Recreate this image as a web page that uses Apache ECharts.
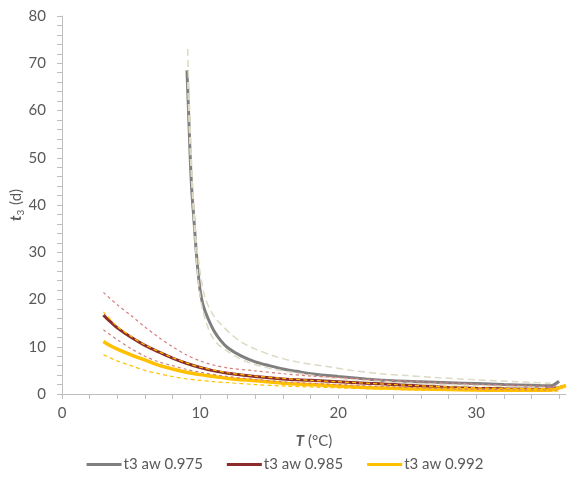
<!DOCTYPE html>
<html><head><meta charset="utf-8">
<script src="https://cdn.jsdelivr.net/npm/echarts@6/dist/echarts.min.js"></script>
<style>html,body{margin:0;padding:0;background:#fff}#c{width:570px;height:479px}</style>
</head><body><div id="c"></div>
<script>
// Temperatures (°C) and t3 (d) values
const grayT    = [9.05, 9.2, 9.3, 9.4, 9.5, 9.6, 9.7, 9.8, 9.9, 10.0, 10.2, 10.5, 11.0, 11.5, 12.0, 13.0, 14.0, 15.0, 16.0, 17.0, 18.0, 20.0, 22.0, 24.0, 26.0, 28.0, 30.0, 32.0, 34.0, 35.4, 36.0];
const grayV    = [68.5, 57, 49, 43, 39, 35, 31, 27.5, 24.5, 22, 19, 16.5, 13.4, 11.3, 9.8, 8.0, 6.8, 6.0, 5.3, 4.8, 4.3, 3.7, 3.2, 2.8, 2.6, 2.4, 2.2, 2.0, 1.85, 1.75, 2.7];
const grayHiT  = [9.1, 9.3, 9.5, 9.7, 9.9, 10.1, 10.4, 11.0, 11.6, 12.3, 13.1, 14.0, 15.5, 17.0, 19.2, 21.0, 23.0, 25.0, 27.0, 30.0, 33.0, 35.4];
const grayHiV  = [73, 55, 42, 33, 28, 24, 20, 16.5, 14.5, 12.5, 10.8, 9.5, 7.9, 6.8, 5.8, 5.0, 4.3, 3.9, 3.5, 3.0, 2.6, 2.3];
const grayLoT  = [9.1, 9.3, 9.5, 9.7, 9.9, 10.1, 10.4, 10.8, 11.3, 12.0, 12.6, 13.5, 14.5, 16.0, 18.0, 20.0, 23.0, 26.0, 30.0, 35.0];
const grayLoV  = [66, 50, 39, 30, 23, 19, 15.5, 12.5, 10.5, 9.0, 7.9, 6.7, 5.8, 4.9, 4.0, 3.3, 2.7, 2.2, 1.8, 1.4];

const redT     = [3, 3.5, 4, 5, 6, 7, 8, 9, 10, 11, 12, 14, 16, 18, 20, 22, 24, 26, 28, 30, 32, 34, 35.5, 36.3];
const redV     = [16.7, 15.3, 14.0, 12.0, 10.3, 8.9, 7.6, 6.5, 5.6, 4.9, 4.4, 3.7, 3.2, 2.9, 2.6, 2.3, 2.0, 1.7, 1.4, 1.2, 1.1, 1.05, 1.05, 1.6];
const redHiT   = [3, 4, 5, 6, 7, 8, 9, 10, 11, 12, 14, 16, 18, 20, 23, 26, 30, 33, 36];
const redHiV   = [21.5, 18.9, 16.6, 14.2, 12.0, 10.0, 8.3, 7.0, 6.1, 5.5, 4.9, 4.3, 3.8, 3.5, 3.0, 2.6, 2.1, 1.8, 1.6];
const redLoT   = [3, 4, 5, 6, 7, 8, 9, 10, 12, 14, 16, 20, 25, 30, 36];
const redLoV   = [13.6, 11.5, 9.6, 8.0, 6.8, 6.0, 5.2, 4.6, 3.7, 3.1, 2.6, 2.0, 1.4, 1.0, 0.8];

const yelT     = [3, 3.5, 4, 5, 6, 7, 8, 9, 10, 11, 12, 14, 16, 18, 20, 22, 24, 26, 28, 30, 32, 34, 35.5, 36.0, 36.5];
const yelV     = [11.1, 10.2, 9.5, 8.3, 7.2, 6.1, 5.3, 4.6, 4.1, 3.7, 3.3, 2.8, 2.3, 2.0, 1.7, 1.4, 1.2, 1.05, 0.95, 0.85, 0.8, 0.8, 0.85, 1.3, 1.8];
const yelHiT   = [3, 4, 5, 6, 7, 8, 9, 10, 12, 14, 16, 18, 20, 24, 28, 32, 36];
const yelHiV   = [17.4, 14.3, 12.2, 10.4, 9.0, 7.7, 6.6, 5.7, 4.5, 3.8, 3.3, 2.9, 2.6, 2.0, 1.5, 1.2, 1.1];
const yelLoT   = [3, 4, 5, 6, 7, 8, 9, 10, 11, 12, 14, 16, 20, 25, 30, 36];
const yelLoV   = [8.3, 7.0, 6.0, 5.0, 4.3, 3.7, 3.2, 2.9, 2.6, 2.4, 2.0, 1.7, 1.3, 0.9, 0.7, 0.6];

const seriesNames = ['t3 aw 0.975', 't3 aw 0.985', 't3 aw 0.992'];

const pairs = (xs, ys) => xs.map((x, i) => [x, ys[i]]);
const FONT = 'Lato';
const TXT = '#595959';

function solid(name, xs, ys, color, w) {
  return { name, type: 'line', data: pairs(xs, ys), showSymbol: false, symbol: 'none', smooth: 0.3,
    lineStyle: { color, width: w }, itemStyle: { color }, z: 2 };
}
function dashed(xs, ys, color, w, dash) {
  return { name: '_', type: 'line', data: pairs(xs, ys), showSymbol: false, symbol: 'none', smooth: 0.3,
    lineStyle: { color, width: w, type: dash }, silent: true, z: 3 };
}

const chart = echarts.init(document.getElementById('c'), null, { renderer: 'canvas' });
chart.setOption({
  animation: false,
  backgroundColor: '#fff',
  grid: { left: 62, right: 4, top: 16, bottom: 85, containLabel: false, outerBoundsMode: 'none' },
  legend: {
    data: seriesNames, bottom: 2, left: 'center', itemWidth: 35, itemHeight: 3, itemGap: 24,
    icon: 'rect',
    textStyle: { fontFamily: FONT, fontSize: 15, color: TXT, padding: [0, 0, 0, -3] }
  },
  xAxis: {
    type: 'value', min: 0, max: 36.5, interval: 2,
    name: '{b|T} (°C)', nameLocation: 'middle', nameGap: 40, nameMoveOverlap: false,
    nameTextStyle: { fontFamily: FONT, fontSize: 15, color: TXT,
      rich: { b: { fontFamily: FONT, fontSize: 15, color: TXT, fontWeight: 'bold', fontStyle: 'italic' } } },
    axisLine: { lineStyle: { color: '#bfbfbf', width: 1 } },
    axisTick: { show: true, length: 5, lineStyle: { color: '#bfbfbf' } },
    axisLabel: { fontFamily: FONT, fontSize: 15, color: TXT, margin: 12,
      formatter: v => (Math.abs(v % 10) < 1e-9 ? String(v) : '') , showMaxLabel: false},
    splitLine: { show: false }
  },
  yAxis: {
    type: 'value', min: 0, max: 80, interval: 10,
    name: '{b|t}{s|3}{n| (d)}', nameLocation: 'middle', nameGap: 36, nameRotate: 90, nameMoveOverlap: false,
    nameTextStyle: { fontFamily: FONT, fontSize: 15, color: TXT,
      rich: {
        b: { fontFamily: FONT, fontSize: 15, color: TXT, fontWeight: 'bold', fontStyle: 'italic', lineHeight: 20, verticalAlign: 'middle' },
        s: { fontFamily: FONT, fontSize: 10, color: TXT, lineHeight: 20, verticalAlign: 'bottom', padding: [0, 1, 0, 0] },
        n: { fontFamily: FONT, fontSize: 15, color: TXT, lineHeight: 20, verticalAlign: 'middle' }
      } },
    axisLine: { show: true, lineStyle: { color: '#bfbfbf', width: 1 } },
    axisTick: { show: true, length: 5, lineStyle: { color: '#bfbfbf' } },
    minorTick: { show: true, splitNumber: 5, length: 5, lineStyle: { color: '#bfbfbf' } },
    axisLabel: { fontFamily: FONT, fontSize: 15, color: TXT, margin: 16 },
    splitLine: { show: false }
  },
  series: [
    solid(seriesNames[0], grayT, grayV, '#7f7f7f', 3),
    solid(seriesNames[1], redT, redV, '#8c2b2b', 3),
    solid(seriesNames[2], yelT, yelV, '#ffc000', 3.5),
    dashed(grayHiT, grayHiV, '#ddd9c3', 1.5, [7, 4]),
    dashed(grayLoT, grayLoV, '#ddd9c3', 1.5, [7, 4]),
    dashed(redHiT, redHiV, '#d67f7f', 1.2, [3, 3]),
    dashed(redLoT, redLoV, '#d67f7f', 1.2, [3, 3]),
    dashed(yelHiT, yelHiV, '#ffc000', 1.2, [4, 3]),
    dashed(yelLoT, yelLoV, '#ffc000', 1.2, [4, 3])
  ]
});
</script>
</body></html>
